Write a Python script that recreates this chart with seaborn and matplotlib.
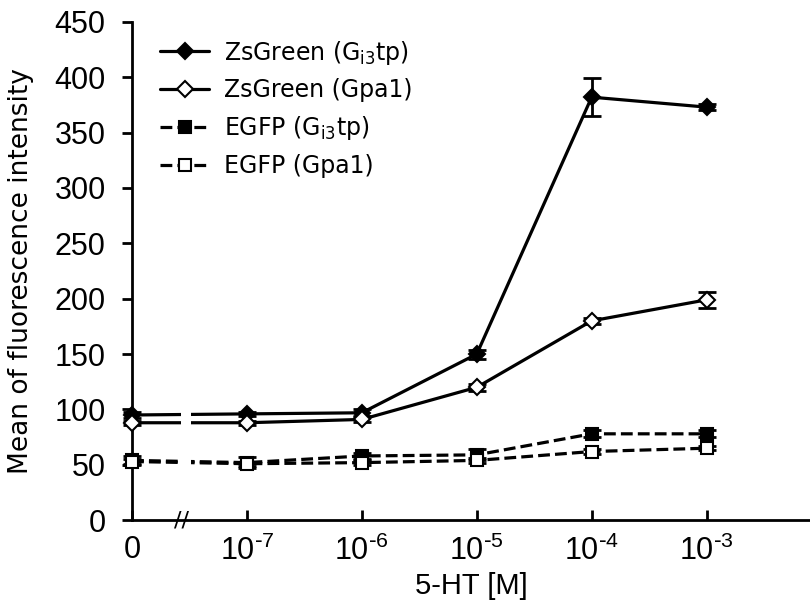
import matplotlib
matplotlib.use("Agg")
import matplotlib.pyplot as plt
import matplotlib.transforms as mtransforms
import seaborn as sns
import pandas as pd

# ---- data ----
conc_labels = ["0", "10$^{\\text{-}7}$", "10$^{\\text{-}6}$", "10$^{\\text{-}5}$",
               "10$^{\\text{-}4}$", "10$^{\\text{-}3}$"]
conc_pos = [0, 1, 2, 3, 4, 5]

zs_gi3tp = [95, 96, 97, 150, 382, 373]
zs_gi3tp_err = [3, 2, 3, 4, 17, 3]
zs_gpa1 = [88, 88, 91, 120, 180, 199]
zs_gpa1_err = [2, 2, 2, 3, 3, 7]
egfp_gi3tp = [54, 52, 58, 59, 78, 78]
egfp_gi3tp_err = [4, 5, 3, 5, 3, 3]
egfp_gpa1 = [53, 51, 52, 54, 62, 65]
egfp_gpa1_err = [2, 2, 2, 2, 2, 2]

series_names = ["ZsGreen (G$_{i3}$tp)", "ZsGreen (Gpa1)", "EGFP (G$_{i3}$tp)", "EGFP (Gpa1)"]
series_vals = [zs_gi3tp, zs_gpa1, egfp_gi3tp, egfp_gpa1]
series_errs = [zs_gi3tp_err, zs_gpa1_err, egfp_gi3tp_err, egfp_gpa1_err]

y_ticks = [0, 50, 100, 150, 200, 250, 300, 350, 400, 450]

# ---- style ----
sns.set_theme(style="ticks")
plt.rcParams["font.family"] = ["DejaVu Sans"]
plt.rcParams["mathtext.default"] = "regular"
for k in ["text.color", "axes.labelcolor", "xtick.color", "ytick.color", "axes.edgecolor"]:
    plt.rcParams[k] = "black"

fig = plt.figure(figsize=(8.1, 6.07), dpi=100)
ax = fig.add_axes([0.163, 0.143, 0.837, 0.821])

styles = [
    dict(marker="D", mfc="black", ls="-", ms=8.5),
    dict(marker="D", mfc="white", ls="-", ms=8.5),
    dict(marker="s", mfc="black", ls="--", ms=8.5),
    dict(marker="s", mfc="white", ls="--", ms=8.5),
]

for name, vals, errs, st in zip(series_names, series_vals, series_errs, styles):
    df = pd.DataFrame({"conc": conc_pos, "value": vals})
    ax.errorbar(df["conc"], df["value"], yerr=errs, fmt="none", ecolor="black",
                elinewidth=2, capsize=6.5, capthick=2, zorder=3, clip_on=False)
    sns.lineplot(data=df, x="conc", y="value", ax=ax, color="black",
                 marker=st["marker"], markersize=st["ms"], markerfacecolor=st["mfc"],
                 markeredgecolor="black", markeredgewidth=1.5,
                 linestyle=st["ls"], linewidth=2.3, label=name,
                 errorbar=None, sort=False, zorder=4, clip_on=False)

# axis break (white gap in lines + "//" mark)
ax.axvspan(0.43, 0.51, ymin=0.01, ymax=1, color="white", zorder=4.5, lw=0)
trans = mtransforms.blended_transform_factory(ax.transData, ax.transAxes)
ax.text(0.43, 0.0, "//", transform=trans, ha="center", va="center",
        fontsize=16, color="black", zorder=6, family="DejaVu Sans")

ax.set_xlim(0, 5.9)
ax.set_ylim(0, 450)
ax.set_yticks(y_ticks)
ax.set_xticks(conc_pos)
ax.set_xticklabels(conc_labels)

tick_font = ["Liberation Sans", "DejaVu Sans"]
for lab in ax.get_xticklabels() + ax.get_yticklabels():
    lab.set_family(tick_font)
    lab.set_fontsize(22)

ax.tick_params(axis="y", direction="out", length=7, width=2, pad=12)
ax.tick_params(axis="x", direction="in", length=7, width=2, pad=11)
for side in ["top", "right"]:
    ax.spines[side].set_visible(False)
for side in ["left", "bottom"]:
    ax.spines[side].set_linewidth(2)

ax.set_ylabel("Mean of fluorescence intensity", fontsize=19)
ax.yaxis.set_label_coords(-0.145, 0.5)
ax.set_xlabel("5-HT [M]", fontsize=21, family=tick_font, va="center")
ax.xaxis.set_label_coords(0.5, -0.133)

leg = ax.legend(loc="upper left", bbox_to_anchor=(0.02, 0.995), frameon=False,
                fontsize=17, handlelength=2.1, labelspacing=0.5, handletextpad=0.6,
                borderaxespad=0.2)

fig.savefig("out.png", dpi=100)
